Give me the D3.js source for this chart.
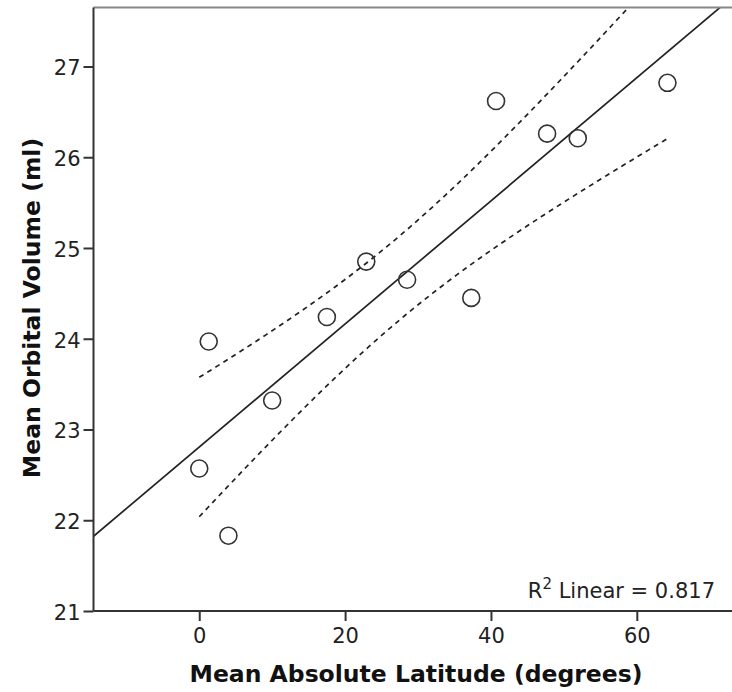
<!DOCTYPE html>
<html><head><meta charset="utf-8">
<script src="https://cdn.jsdelivr.net/npm/d3@7"></script>
<style>body{margin:0;background:#fff}svg{display:block}text{font-family:"DejaVu Sans",sans-serif}</style>
</head><body>
<svg id="c" width="732" height="692"></svg>
<script>
const latitude = [0, 4.0, 1.3, 10.0, 17.5, 22.9, 28.5, 37.3, 40.7, 47.7, 51.9, 64.2];
const orbitalVolume = [22.57, 21.83, 23.97, 23.32, 24.24, 24.85, 24.65, 24.45, 26.62, 26.26, 26.21, 26.82];
const xTicks = [0, 20, 40, 60];
const yTicks = [21, 22, 23, 24, 25, 26, 27];
const r2Label = "0.817";

const svg = d3.select("#c");
const L = 93.5, T = 7.5, B = 611, R = 736;
const x = d3.scaleLinear().domain([-14.5, 73.6]).range([L, R]);
const y = d3.scaleLinear().domain([21, 27.65]).range([B, T]);

svg.append("defs").append("clipPath").attr("id","clip")
  .append("rect").attr("x",L).attr("y",T).attr("width",R-L).attr("height",B-T);

// regression
const n = latitude.length;
const mx = d3.mean(latitude), my = d3.mean(orbitalVolume);
let sxx = 0, sxy = 0;
latitude.forEach((v,i)=>{ sxx += (v-mx)*(v-mx); sxy += (v-mx)*(orbitalVolume[i]-my); });
const b1 = sxy/sxx, b0 = my - b1*mx;
let sse = 0;
latitude.forEach((v,i)=>{ const e = orbitalVolume[i]-(b0+b1*v); sse += e*e; });
const s = Math.sqrt(sse/(n-2));
const tcrit = 2.228;
const xmin = d3.min(latitude), xmax = d3.max(latitude);
const grid = d3.range(0, 101).map(i => xmin + (xmax-xmin)*i/100);
const band = grid.map(v => {
  const fit = b0 + b1*v;
  const h = tcrit*s*Math.sqrt(1/n + (v-mx)*(v-mx)/sxx);
  return {v, lo: fit-h, hi: fit+h};
});

const g = svg.append("g").attr("clip-path","url(#clip)");
g.append("line")
  .attr("x1", x(-14.5)).attr("y1", y(b0 + b1*(-14.5)))
  .attr("x2", x(80)).attr("y2", y(b0 + b1*80))
  .attr("stroke","#222").attr("stroke-width",1.7);
const ln = d3.line();
g.append("path").attr("d", ln(band.map(d=>[x(d.v), y(d.hi)])))
  .attr("fill","none").attr("stroke","#222").attr("stroke-width",1.7).attr("stroke-dasharray","5,4.5");
g.append("path").attr("d", ln(band.map(d=>[x(d.v), y(d.lo)])))
  .attr("fill","none").attr("stroke","#222").attr("stroke-width",1.7).attr("stroke-dasharray","5,4.5");

// points
svg.append("g").selectAll("circle").data(latitude).join("circle")
  .attr("cx", d => x(d)).attr("cy", (d,i) => y(orbitalVolume[i]))
  .attr("r", 8.5).attr("fill","none").attr("stroke","#333").attr("stroke-width",1.6);

// frame top
svg.append("line").attr("x1",L).attr("x2",732).attr("y1",T).attr("y2",T)
  .attr("stroke","#888").attr("stroke-width",2);

// axes
const xa = svg.append("g").attr("transform",`translate(0,${B})`)
  .call(d3.axisBottom(x).tickValues(xTicks).tickSize(10).tickPadding(7).tickFormat(d3.format("d")));
const ya = svg.append("g").attr("transform",`translate(${L},0)`)
  .call(d3.axisLeft(y).tickValues(yTicks).tickSize(10).tickPadding(3).tickFormat(d3.format("d")));
[xa, ya].forEach(a => {
  a.select(".domain").attr("stroke","#333").attr("stroke-width",2);
  a.selectAll(".tick line").attr("stroke","#333").attr("stroke-width",2);
  a.selectAll("text").attr("fill","#222").style("font-size","21px").style("font-family","DejaVu Sans, sans-serif");
});
xa.select(".domain").attr("d", `M${L},0H732`);
ya.select(".domain").attr("d", `M0,${T}V${B}`);
ya.selectAll("text").attr("dy","0.4em");

// R2 label
const rt = svg.append("text").attr("x", 715).attr("y", 598).attr("text-anchor","end")
  .attr("fill","#222").style("font-size","21px");
rt.append("tspan").text("R");
rt.append("tspan").attr("dy",-9).style("font-size","15px").text("2");
rt.append("tspan").attr("dy",9).text(" Linear = " + r2Label);

// titles
svg.append("text").attr("x", 416).attr("y", 682).attr("text-anchor","middle")
  .attr("fill","#111").style("font-size","23.5px").style("font-weight","bold")
  .text("Mean Absolute Latitude (degrees)");
svg.append("text").attr("transform","translate(40,308) rotate(-90)").attr("text-anchor","middle")
  .attr("fill","#111").style("font-size","23.5px").style("font-weight","bold")
  .text("Mean Orbital Volume (ml)");
</script>
</body></html>
